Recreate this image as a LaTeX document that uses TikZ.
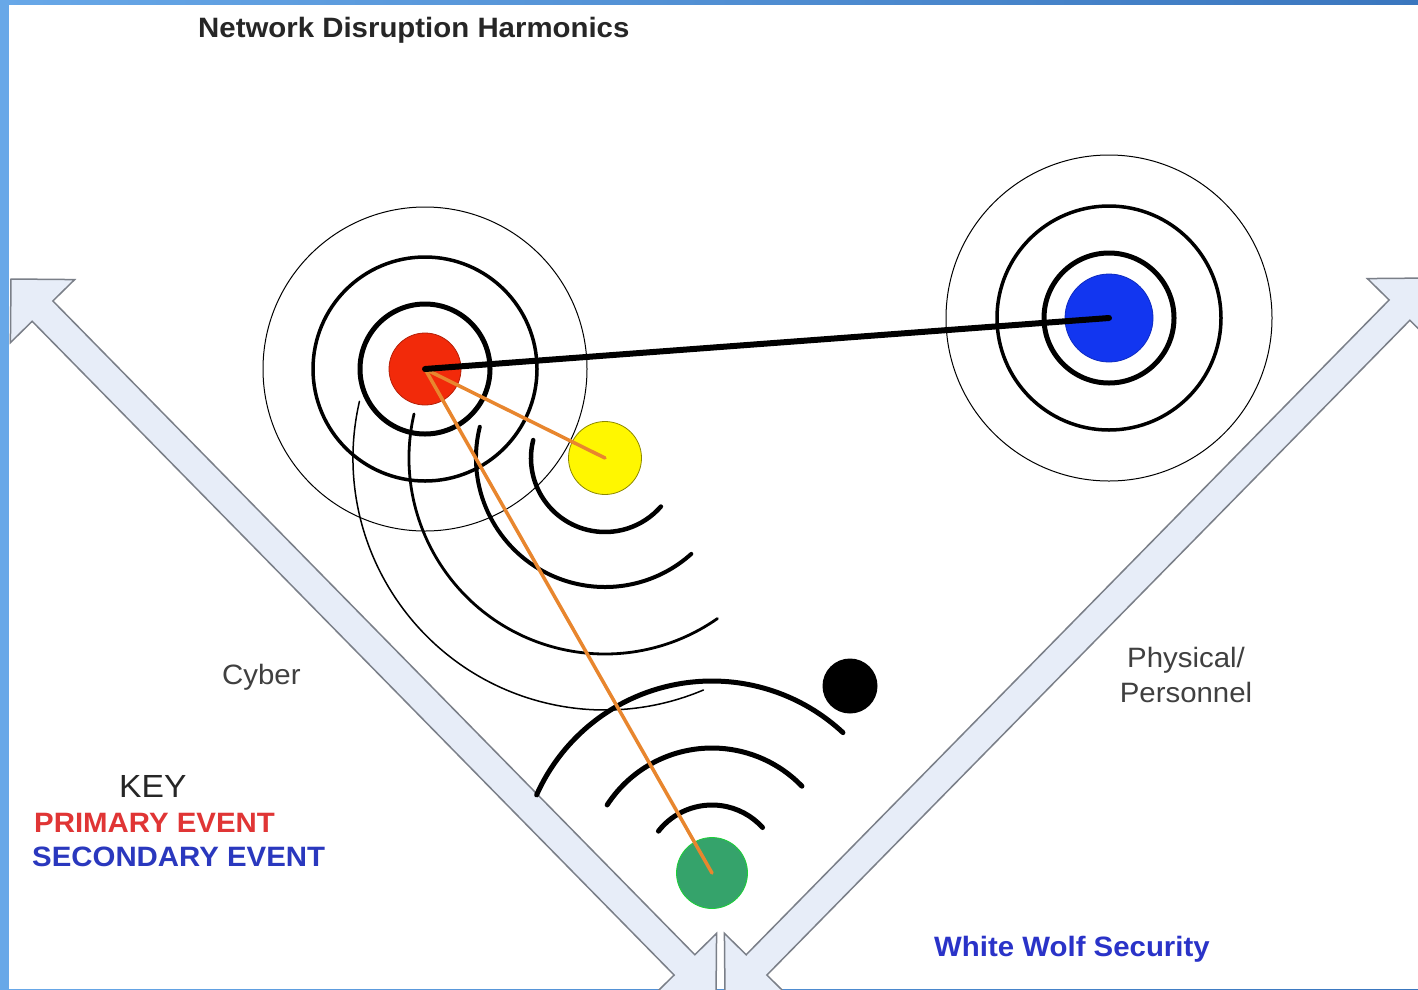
\documentclass[tikz,border=0pt]{standalone}
\usepackage{fontspec}
\setmainfont{Liberation Sans}[FakeStretch=1.05]
\usetikzlibrary{calc}
\definecolor{barlight}{HTML}{68A8E8}
\definecolor{bardark}{HTML}{3A76BE}
\definecolor{arrowfill}{HTML}{E7EDF8}
\definecolor{arrowline}{HTML}{7A7F88}
\definecolor{redev}{HTML}{F22A0A}
\definecolor{blueev}{HTML}{1236F0}
\definecolor{yellowev}{HTML}{FFF700}
\definecolor{greenev}{HTML}{35A36B}
\definecolor{orangeln}{HTML}{E8862E}
\definecolor{keyred}{HTML}{E03535}
\definecolor{keyblue}{HTML}{2A38BE}
\definecolor{wolfblue}{HTML}{2A33C8}
\definecolor{labelgray}{HTML}{404040}
\begin{document}
\begin{tikzpicture}[x=1pt,y=-1pt,
  bigarrow/.style={fill=arrowfill, draw=arrowline, line width=1.5pt, line join=miter},
  ringthick/.style={line width=5pt},
  ringmid/.style={line width=3.5pt},
  ringthin/.style={line width=1pt},
  event/.style={circle, inner sep=0pt, line width=0.8pt},
  wave/.style={line width=#1, line cap=round},
  link/.style={orangeln, line width=3.5pt, line cap=round},
  txt/.style={inner sep=0pt, font=\fontsize{28}{30}\selectfont},
  btxt/.style={inner sep=0pt, font=\bfseries\fontsize{28}{30}\selectfont}]
\useasboundingbox (0,0) rectangle (1418,989);
\shade[left color=barlight, right color=bardark] (0,0) rectangle (1418,989);
\fill[white] (9,5) rectangle (1418,989);

\begin{scope}
\clip (9,5) rectangle (1418,989);
% left double arrow
\coordinate (la) at (11,279);
\coordinate (lb) at (716,997);
\draw[bigarrow] (la) -- ($(la)!63.64pt!45:(lb)$) -- ($(la)!47.28pt!17.86:(lb)$)
  -- ($(lb)!47.28pt!-17.86:(la)$) -- ($(lb)!63.64pt!-45:(la)$) -- (lb)
  -- ($(lb)!63.64pt!45:(la)$) -- ($(lb)!47.28pt!17.86:(la)$)
  -- ($(la)!47.28pt!-17.86:(lb)$) -- ($(la)!63.64pt!-45:(lb)$) -- cycle;
% right double arrow
\coordinate (ra) at (1431,278);
\coordinate (rb) at (725,997);
\draw[bigarrow] (ra) -- ($(ra)!63.64pt!45:(rb)$) -- ($(ra)!47.28pt!17.86:(rb)$)
  -- ($(rb)!47.28pt!-17.86:(ra)$) -- ($(rb)!63.64pt!-45:(ra)$) -- (rb)
  -- ($(rb)!63.64pt!45:(ra)$) -- ($(rb)!47.28pt!17.86:(ra)$)
  -- ($(ra)!47.28pt!-17.86:(rb)$) -- ($(ra)!63.64pt!-45:(rb)$) -- cycle;
\end{scope}

% event positions
\coordinate (pc) at (425,369);
\coordinate (sc) at (1109,318);
\coordinate (yc) at (605,458);
\coordinate (gc) at (712,873);

% rings
\draw[ringthick] (pc) circle[radius=65];
\draw[ringmid] (pc) circle[radius=112];
\draw[ringthin] (pc) circle[radius=162];
\draw[ringthick] (sc) circle[radius=65];
\draw[ringmid] (sc) circle[radius=112];
\draw[ringthin] (sc) circle[radius=163];

% waves around the yellow event
\draw[wave=4.5pt] (yc) ++(-166:74) arc[start angle=-166, end angle=-319, radius=74];
\draw[wave=4pt] (yc) ++(-166:129) arc[start angle=-166, end angle=-312, radius=129];
\draw[wave=2.8pt] (yc) ++(-167:196) arc[start angle=-167, end angle=-305, radius=196];
\draw[wave=1.5pt] (yc) ++(-167:252) arc[start angle=-167, end angle=-293, radius=252];

% waves around the green event
\draw[wave=5pt] (gc) ++(-142:68) arc[start angle=-142, end angle=-42, radius=68];
\draw[wave=5pt] (gc) ++(-147:125) arc[start angle=-147, end angle=-44, radius=125];
\draw[wave=5pt] (gc) ++(-156:192) arc[start angle=-156, end angle=-47, radius=192];

% event circles
\node[event, fill=redev, draw=redev!75!black, minimum size=72pt] (primary) at (pc) {};
\node[event, fill=blueev, draw=blueev!80!black, minimum size=88pt] (secondary) at (sc) {};
\node[event, fill=yellowev, draw=yellowev!55!black, minimum size=73pt] (yellowdot) at (yc) {};
\node[event, fill=greenev, draw=green!50!greenev, minimum size=71pt] (greendot) at (gc) {};
\node[event, fill=black, minimum size=55pt] (blackdot) at (850,686) {};

% links
\draw[link] (primary.center) -- (yellowdot.center);
\draw[link] (primary.center) -- (greendot.center);
\draw[line width=6pt, line cap=round] (primary.center) -- (secondary.center);

% texts
\node[btxt, anchor=base west, text=black!85] (title) at (198,37) {Network Disruption Harmonics};
\node[txt, anchor=base west, text=labelgray] (cyber) at (222,684) {Cyber};
\node[txt, anchor=base, text=labelgray] (physical) at (1186,667) {Physical/};
\node[txt, anchor=base, text=labelgray] (personnel) at (1186,702) {Personnel};
\node[inner sep=0pt, font=\fontsize{32}{34}\selectfont, anchor=base west, text=black!85] (key) at (119,797) {KEY};
\node[btxt, anchor=base west, text=keyred] (primarykey) at (34,832) {PRIMARY EVENT};
\node[btxt, anchor=base west, text=keyblue] (secondarykey) at (32,866) {SECONDARY EVENT};
\node[btxt, anchor=base west, text=wolfblue] (wolf) at (934,956) {White Wolf Security};
\end{tikzpicture}
\end{document}
